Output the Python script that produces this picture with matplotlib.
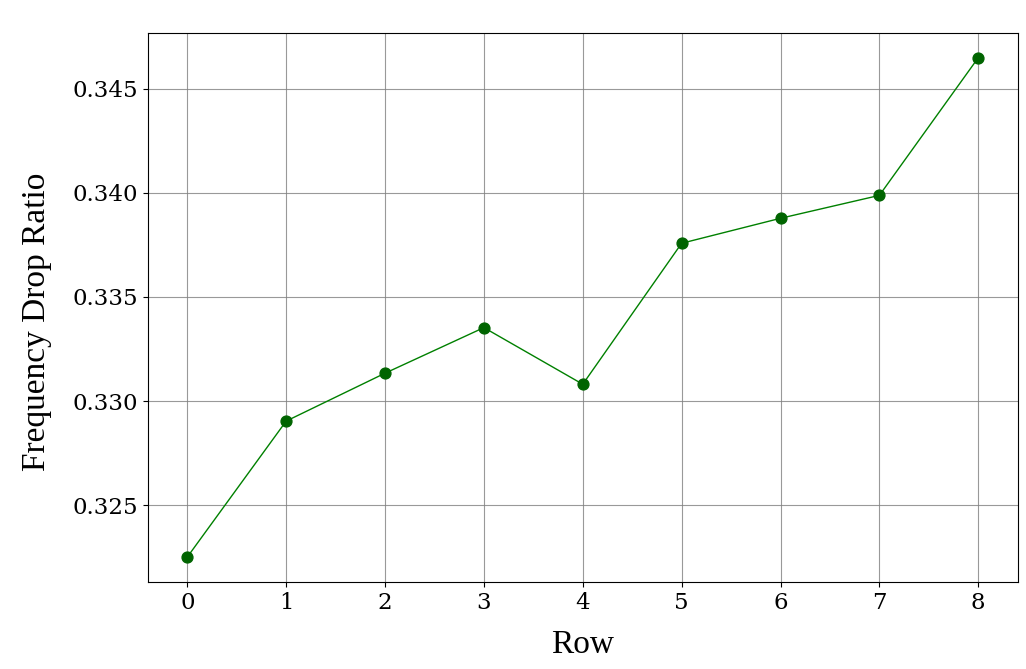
import numpy as np
import matplotlib.pyplot as plt

# Datos
filas = [0, 1, 2, 3, 4, 5, 6, 7, 8]
ratio_caida = [0.32251, 0.32904, 0.33134, 0.33353, 0.33081,
               0.33758, 0.33878, 0.33988, 0.34649]

fig, ax = plt.subplots(figsize=(10.26, 6.69), dpi=100)
ax.plot(filas, ratio_caida, color="green", linewidth=1,
        marker="o", markersize=7.8, markerfacecolor="darkgreen",
        markeredgecolor="darkgreen")

ax.grid(True, color="gray", linewidth=0.8, alpha=0.8)
ax.set_axisbelow(True)

ax.set_xlabel("Row", fontsize=24, family="Liberation Serif", labelpad=11)
ax.set_ylabel("Frequency Drop Ratio", fontsize=24, family="Liberation Serif")
ax.yaxis.set_label_coords(-0.11, 0.474)
for lbl in ax.get_xticklabels() + ax.get_yticklabels():
    lbl.set_family("DejaVu Serif")
    lbl.set_fontsize(16.5)
ax.set_xticks(filas)

plt.subplots_adjust(left=0.144, right=0.992, top=0.951, bottom=0.13)
plt.savefig("out.png", dpi=100)
